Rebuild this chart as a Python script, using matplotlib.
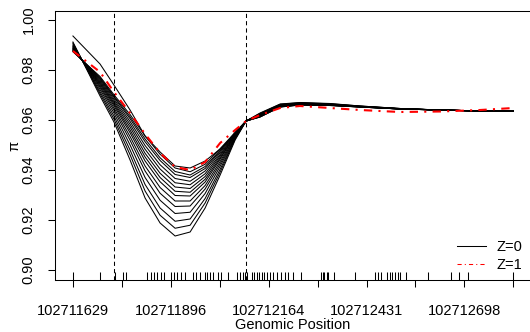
import matplotlib
matplotlib.use("Agg")
import matplotlib.pyplot as plt
from matplotlib.lines import Line2D

plt.rcParams['font.family'] = ['Liberation Sans', 'DejaVu Sans']

# posiciones donde se evalua pi
posiciones = [102711629, 102711703, 102711741, 102711785, 102711826, 102711867,
              102711908, 102711949, 102711990, 102712031, 102712072, 102712102,
              102712140, 102712195, 102712249, 102712331, 102712413, 102712522,
              102712632, 102712741, 102712832]

# curvas Z=0 (negras)
pi_z0 = [
    [0.9936, 0.9824, 0.9740, 0.9640, 0.9536, 0.9472, 0.9416, 0.9408, 0.9436, 0.9484, 0.9544,
     0.9596, 0.9612, 0.9652, 0.9660, 0.9658, 0.9652, 0.9644, 0.9640, 0.9636, 0.9636],
    [0.9873, 0.9774, 0.9701, 0.9622, 0.9536, 0.9463, 0.9408, 0.9393, 0.9423, 0.9485, 0.9551,
     0.9596, 0.9612, 0.9652, 0.9660, 0.9658, 0.9652, 0.9644, 0.9640, 0.9636, 0.9636],
    [0.9875, 0.9770, 0.9695, 0.9613, 0.9524, 0.9449, 0.9394, 0.9380, 0.9414, 0.9479, 0.9549,
     0.9596, 0.9613, 0.9653, 0.9661, 0.9659, 0.9652, 0.9644, 0.9640, 0.9636, 0.9636],
    [0.9877, 0.9766, 0.9691, 0.9605, 0.9513, 0.9438, 0.9382, 0.9370, 0.9406, 0.9475, 0.9548,
     0.9596, 0.9614, 0.9653, 0.9661, 0.9659, 0.9652, 0.9644, 0.9640, 0.9636, 0.9636],
    [0.9879, 0.9762, 0.9684, 0.9594, 0.9498, 0.9421, 0.9366, 0.9355, 0.9396, 0.9469, 0.9546,
     0.9596, 0.9615, 0.9654, 0.9662, 0.9659, 0.9653, 0.9644, 0.9640, 0.9636, 0.9636],
    [0.9882, 0.9757, 0.9677, 0.9583, 0.9483, 0.9404, 0.9349, 0.9341, 0.9385, 0.9462, 0.9544,
     0.9596, 0.9616, 0.9655, 0.9662, 0.9660, 0.9653, 0.9644, 0.9640, 0.9636, 0.9636],
    [0.9884, 0.9752, 0.9670, 0.9572, 0.9467, 0.9387, 0.9332, 0.9326, 0.9374, 0.9456, 0.9542,
     0.9596, 0.9617, 0.9656, 0.9663, 0.9660, 0.9653, 0.9645, 0.9640, 0.9636, 0.9636],
    [0.9886, 0.9747, 0.9664, 0.9560, 0.9452, 0.9370, 0.9315, 0.9311, 0.9363, 0.9449, 0.9540,
     0.9596, 0.9618, 0.9656, 0.9664, 0.9661, 0.9653, 0.9645, 0.9640, 0.9636, 0.9636],
    [0.9889, 0.9742, 0.9657, 0.9549, 0.9436, 0.9353, 0.9298, 0.9296, 0.9352, 0.9443, 0.9539,
     0.9596, 0.9619, 0.9657, 0.9664, 0.9661, 0.9654, 0.9645, 0.9640, 0.9636, 0.9636],
    [0.9892, 0.9736, 0.9648, 0.9534, 0.9416, 0.9330, 0.9276, 0.9276, 0.9338, 0.9434, 0.9536,
     0.9596, 0.9620, 0.9658, 0.9665, 0.9662, 0.9654, 0.9645, 0.9640, 0.9636, 0.9636],
    [0.9895, 0.9730, 0.9639, 0.9519, 0.9396, 0.9307, 0.9254, 0.9256, 0.9324, 0.9425, 0.9533,
     0.9596, 0.9621, 0.9659, 0.9666, 0.9663, 0.9654, 0.9645, 0.9640, 0.9636, 0.9636],
    [0.9899, 0.9722, 0.9628, 0.9500, 0.9370, 0.9279, 0.9226, 0.9231, 0.9306, 0.9415, 0.9530,
     0.9596, 0.9623, 0.9660, 0.9667, 0.9663, 0.9655, 0.9645, 0.9640, 0.9636, 0.9636],
    [0.9904, 0.9713, 0.9616, 0.9480, 0.9342, 0.9248, 0.9195, 0.9204, 0.9286, 0.9403, 0.9527,
     0.9596, 0.9625, 0.9661, 0.9668, 0.9664, 0.9655, 0.9646, 0.9640, 0.9636, 0.9636],
    [0.9908, 0.9705, 0.9604, 0.9461, 0.9316, 0.9219, 0.9167, 0.9179, 0.9268, 0.9392, 0.9524,
     0.9596, 0.9626, 0.9663, 0.9669, 0.9665, 0.9656, 0.9646, 0.9640, 0.9636, 0.9636],
    [0.9912, 0.9696, 0.9592, 0.9440, 0.9288, 0.9188, 0.9136, 0.9152, 0.9248, 0.9380, 0.9520,
     0.9596, 0.9628, 0.9664, 0.9670, 0.9666, 0.9656, 0.9646, 0.9640, 0.9636, 0.9636],
]

# curva Z=1 (roja)
pi_z1 = [0.9876, 0.9792, 0.9712, 0.9628, 0.9544, 0.9468, 0.9412, 0.9400, 0.9432, 0.9508, 0.9560,
         0.9596, 0.9620, 0.9648, 0.9656, 0.9648, 0.9640, 0.9632, 0.9634, 0.9640, 0.9648]

# SNPs (rug)
snps = [102711629, 102711703, 102711744, 102711765, 102711774, 102711832, 102711841,
        102711850, 102711859, 102711869, 102711878, 102711897, 102711905, 102711913,
        102711924, 102711935, 102711956, 102711965, 102711976, 102711990, 102711994,
        102712003, 102712012, 102712024, 102712033, 102712052, 102712076, 102712085,
        102712093, 102712099, 102712105, 102712119, 102712124, 102712131, 102712137,
        102712145, 102712152, 102712159, 102712167, 102712176, 102712187, 102712196,
        102712208, 102712217, 102712229, 102712252, 102712307, 102712311, 102712316,
        102712322, 102712326, 102712343, 102712398, 102712453, 102712462, 102712471,
        102712486, 102712494, 102712501, 102712508, 102712516, 102712522, 102712539,
        102712598, 102712662, 102712682, 102712707, 102712832]

limites = [102711741, 102712102]

xticks = [102711629, 102711763, 102711896, 102712030, 102712164, 102712297,
          102712431, 102712564, 102712698, 102712831]
xlabels = ['102711629', '', '102711896', '', '102712164', '',
           '102712431', '', '102712698', '']
yticks = [0.90, 0.92, 0.94, 0.96, 0.98, 1.00]

fs = 10.5
fig = plt.figure(figsize=(5.3, 3.32), dpi=100)
ax = fig.add_axes([55 / 530, 52 / 332, 476 / 530, 269 / 332])

for curva in pi_z0:
    ax.plot(posiciones, curva, color='black', lw=0.75)
ax.plot(posiciones, pi_z1, color='red', lw=1.5, dashes=(4, 3, 1, 3))

for x in limites:
    ax.axvline(x, color='black', lw=0.75, dashes=(4, 3))

ax.vlines(snps, 0, 0.03, transform=ax.get_xaxis_transform(), color='black', lw=0.75)

ax.set_xlim(102711580, 102712880)
ax.set_ylim(0.896, 1.0036)

ax.set_xticks(xticks)
ax.set_xticklabels(xlabels, fontsize=fs)
ax.set_yticks(yticks)
ax.set_yticklabels(['%.2f' % v for v in yticks], fontsize=fs, rotation=90, va='center')
ax.tick_params(axis='both', direction='out', length=5, width=0.75)
ax.tick_params(axis='x', pad=12.5)
ax.tick_params(axis='y', pad=9)

for s in ax.spines.values():
    s.set_linewidth(0.75)

ax.set_xlabel('Genomic Position', fontsize=fs)
ax.xaxis.set_label_coords(0.5, -0.142)
ax.set_ylabel('π', fontsize=fs)
ax.yaxis.set_label_coords(-0.07, 0.5)

handles = [Line2D([], [], color='black', lw=0.75),
           Line2D([], [], color='red', lw=0.75, dashes=(4, 3, 1, 3))]
ax.legend(handles, ['Z=0', 'Z=1'], loc='lower right', frameon=False, fontsize=fs,
          bbox_to_anchor=(522 / 530, 60 / 332), bbox_transform=fig.transFigure,
          handlelength=2.0, handletextpad=0.7, labelspacing=0.25, borderaxespad=0,
          borderpad=0)

fig.savefig('out.png', dpi=100)
